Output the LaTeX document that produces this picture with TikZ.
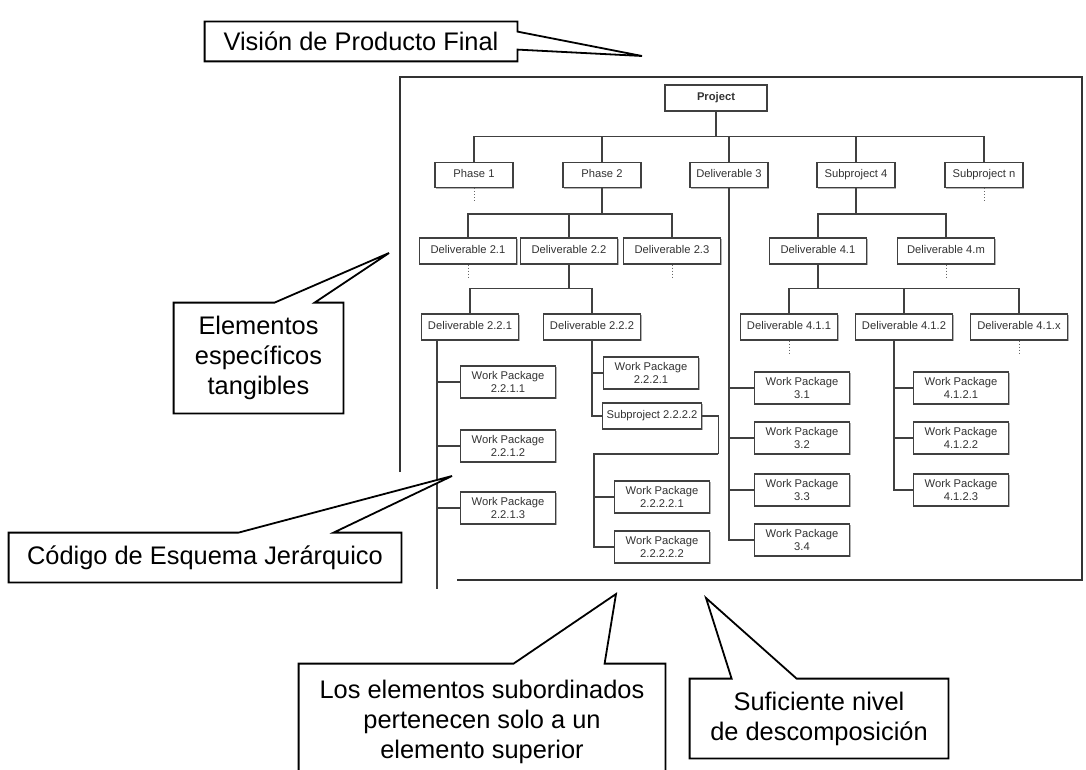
\documentclass[tikz,border=0pt]{standalone}
\usepackage{fontspec}
\setmainfont{Liberation Sans}
\usetikzlibrary{calc,shadows}

\pgfdeclarelayer{notes}
\pgfdeclarelayer{notetext}
\pgfsetlayers{main,notes,notetext}

\tikzset{
  cell/.style={draw=black!75, line width=0.6pt, fill=white, inner sep=0.5pt, text=black!80,
    font=\fontsize{5.6}{6.5}\selectfont,
    drop shadow={shadow xshift=0.7pt, shadow yshift=-0.7pt, opacity=1, fill=black!30}},
  wbs/.style={cell, minimum width=48.5pt, minimum height=13pt, text height=4.2pt, text depth=1.3pt},
  phase/.style={wbs, minimum width=39pt, minimum height=12.5pt},
  pkg/.style={cell, minimum width=47.5pt, minimum height=16pt, align=center},
  wire/.style={draw=black!75, line width=0.6pt},
  stub/.style={draw=black!60, line width=0.5pt, densely dotted},
  balloon/.style={inner sep=0pt, align=center, font=\fontsize{12.7}{15}\selectfont},
  outline/.style={draw=black, line width=0.9pt, fill=white, line join=miter},
}

\begin{document}
\begin{tikzpicture}[x=0.5pt, y=-0.5pt]
\useasboundingbox (0,0) rectangle (1086,770);
\clip (0,0) rectangle (1086,770);

% frame around the breakdown
\draw[black!80, line width=0.9pt] (400,472) -- (400,77) -- (1082,77) -- (1082,580) -- (457,580);

% levels 0 and 1
\node[wbs, minimum width=51pt, font=\fontsize{5.6}{6.5}\selectfont\bfseries] (proj) at (716,98) {Project};
\node[phase] (ph1) at (474,175) {Phase 1};
\node[phase] (ph2) at (602,175) {Phase 2};
\node[phase] (del3) at (729,175) {Deliverable 3};
\node[phase] (sub4) at (856,175) {Subproject 4};
\node[phase] (subn) at (984,175) {Subproject n};

% level 2
\node[wbs] (d21) at (468,251) {Deliverable 2.1};
\node[wbs] (d22) at (569,251) {Deliverable 2.2};
\node[wbs] (d23) at (672,251) {Deliverable 2.3};
\node[wbs] (d41) at (818,251) {Deliverable 4.1};
\node[wbs] (d4m) at (946,251) {Deliverable 4.m};

% level 3
\node[wbs] (d221) at (470,327) {Deliverable 2.2.1};
\node[wbs] (d222) at (592,327) {Deliverable 2.2.2};
\node[wbs] (d411) at (789,327) {Deliverable 4.1.1};
\node[wbs] (d412) at (904,327) {Deliverable 4.1.2};
\node[wbs] (d41x) at (1019,327) {Deliverable 4.1.x};

% work packages
\node[pkg] (w2211) at (508,382) {Work Package\\2.2.1.1};
\node[pkg] (w2212) at (508,446) {Work Package\\2.2.1.2};
\node[pkg] (w2213) at (508,508) {Work Package\\2.2.1.3};
\node[pkg] (w2221) at (651,373) {Work Package\\2.2.2.1};
\node[wbs, minimum width=49.5pt] (s2222) at (652,416) {Subproject 2.2.2.2};
\node[pkg] (w22221) at (662,497) {Work Package\\2.2.2.2.1};
\node[pkg] (w22222) at (662,547) {Work Package\\2.2.2.2.2};
\node[pkg] (w31) at (802,388) {Work Package\\3.1};
\node[pkg] (w32) at (802,438) {Work Package\\3.2};
\node[pkg] (w33) at (802,490) {Work Package\\3.3};
\node[pkg] (w34) at (802,540) {Work Package\\3.4};
\node[pkg] (w4121) at (961,388) {Work Package\\4.1.2.1};
\node[pkg] (w4122) at (961,438) {Work Package\\4.1.2.2};
\node[pkg] (w4123) at (961,490) {Work Package\\4.1.2.3};

% tree lines
\foreach \c in {ph1,ph2,del3,sub4,subn}
  \draw[wire] (proj.south) -- ++(0,25) -| (\c.north);
\foreach \c in {d21,d22,d23}
  \draw[wire] (ph2.south) -- ++(0,26) -| (\c.north);
\foreach \c in {d41,d4m}
  \draw[wire] (sub4.south) -- ++(0,26) -| (\c.north);
\foreach \c in {d221,d222}
  \draw[wire] (d22.south) -- ++(0,24) -| (\c.north);
\foreach \c in {d411,d412,d41x}
  \draw[wire] (d41.south) -- ++(0,24) -| (\c.north);
\foreach \c in {ph1,subn,d21,d23,d4m,d411,d41x}
  \draw[stub] (\c.south) -- ++(0,14);

\foreach \c in {w31,w32,w33,w34}
  \draw[wire] (del3.south) |- (\c.west);

\coordinate (t221) at ($(d221.south west)+(16,0)$);
\foreach \c in {w2211,w2212,w2213}
  \draw[wire] (t221) |- (\c.west);
\draw[wire] (t221) -- ++(0,248);

\foreach \c in {w2221,s2222}
  \draw[wire] (d222.south) |- (\c.west);
\draw[wire] (s2222.east) -- ++(16,0) -- ++(0,38) coordinate (jog);
\foreach \c in {w22221,w22222}
  \draw[wire] (jog) -| ($(\c.west)+(-20,0)$) -- (\c.west);

\coordinate (t412) at ($(d412.south west)+(39,0)$);
\foreach \c in {w4121,w4122,w4123}
  \draw[wire] (t412) |- (\c.west);

% callouts
\coordinate (tipV) at (642,56);
\coordinate (tipE) at (389,253);
\coordinate (tipC) at (452,476);
\coordinate (tipL) at (616,594);
\coordinate (tipS) at (706,598);

\begin{pgfonlayer}{notetext}
  \node[balloon, minimum width=156pt, minimum height=19.5pt] (vision) at (361,41.5) {Visión de Producto Final};
  \node[balloon, minimum width=84.5pt, minimum height=55pt] (elem) at (258.5,358) {Elementos\\específicos\\tangibles};
  \node[balloon, minimum width=196pt, minimum height=24.5pt] (code) at (205,557.5) {Código de Esquema Jerárquico};
  \node[balloon, minimum width=183pt, minimum height=58pt] (subord) at (482,722) {Los elementos subordinados\\pertenecen solo a un\\elemento superior};
  \node[balloon, minimum width=129pt, minimum height=39.5pt] (enough) at (819,718.5) {Suficiente nivel\\de descomposición};
\end{pgfonlayer}

\begin{pgfonlayer}{notes}
  \draw[outline] (vision.north west) -- (vision.north east) -- ($(vision.north east)+(0,10)$)
    -- (tipV) -- ($(vision.north east)+(0,28)$) -- (vision.south east) -- (vision.south west) -- cycle;
  \draw[outline] (elem.north west) -- ($(elem.north west)+(101,0)$) -- (tipE)
    -- ($(elem.north west)+(141,0)$) -- (elem.north east) -- (elem.south east) -- (elem.south west) -- cycle;
  \draw[outline] (code.north west) -- ($(code.north west)+(230,0)$) -- (tipC)
    -- ($(code.north west)+(325,0)$) -- (code.north east) -- (code.south east) -- (code.south west) -- cycle;
  \draw[outline] (subord.north west) -- ($(subord.north west)+(215,0)$) -- (tipL)
    -- ($(subord.north west)+(306,0)$) -- (subord.north east) -- (subord.south east) -- (subord.south west) -- cycle;
  \draw[outline] (enough.north west) -- ($(enough.north west)+(42,0)$) -- (tipS)
    -- ($(enough.north west)+(107,0)$) -- (enough.north east) -- (enough.south east) -- (enough.south west) -- cycle;
\end{pgfonlayer}
\end{tikzpicture}
\end{document}
